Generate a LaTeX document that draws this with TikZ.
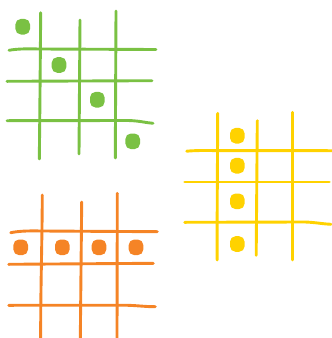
\documentclass[tikz,border=0pt]{standalone}
\definecolor{ggreen}{HTML}{7AC143}
\definecolor{gyellow}{HTML}{FFD200}
\definecolor{gorange}{HTML}{F58426}
\tikzset{
  gridline/.style={line width=2.9pt, line cap=round, line join=round},
  dot/.style={rounded corners=5.5pt},
}
\newcommand{\mydot}[3]{\fill[#1,dot] ({#2-7.3},{#3-7.8}) rectangle ({#2+7.3},{#3+7.8});}
\begin{document}
\begin{tikzpicture}[x=1pt,y=-1pt]
\useasboundingbox (0,0) rectangle (332,338);
% green grid
\begin{scope}[ggreen]
\draw[gridline] (40.7,12.7) .. controls (40.2,70) and (39.8,120) .. (39.3,159);
\draw[gridline] (80,20) -- (79,154);
\draw[gridline] (116,11) -- (115.3,158);
\draw[gridline] (9,50.3) .. controls (18,48.6) and (28,48.8) .. (40,49) -- (156,49.5);
\draw[gridline] (7,81.3) -- (152,80.7);
\draw[gridline] (7,120.7) -- (128,120.5) .. controls (140,120.8) and (146,122.8) .. (153,123.3);
\mydot{ggreen}{22.7}{26.7}
\mydot{ggreen}{59}{65}
\mydot{ggreen}{97.3}{99.7}
\mydot{ggreen}{132.7}{141.3}
\end{scope}
% yellow grid
\begin{scope}[gyellow]
\draw[gridline] (217.7,113.3) .. controls (217.5,170) and (217,210) .. (217.2,260);
\draw[gridline] (257.3,120.7) -- (256.2,255.3);
\draw[gridline] (292.7,112.3) -- (292.7,260);
\draw[gridline] (186.7,151.2) .. controls (195,150.4) and (205,150.4) .. (215,150.6) -- (332,150.7);
\draw[gridline] (184.7,182) -- (329.3,182);
\draw[gridline] (184.7,222.3) -- (305,222) .. controls (316,222.4) and (323,224) .. (331,224.3);
\mydot{gyellow}{237.3}{135.7}
\mydot{gyellow}{237.3}{165.7}
\mydot{gyellow}{237.3}{201.3}
\mydot{gyellow}{237.3}{244}
\end{scope}
% orange grid
\begin{scope}[gorange]
\draw[gridline] (42.3,195) .. controls (42,250) and (40.5,290) .. (40.7,340);
\draw[gridline] (81.7,202) -- (80.3,340);
\draw[gridline] (117.3,193.3) -- (117,340);
\draw[gridline] (10.7,232.7) .. controls (20,230.8) and (30,230.8) .. (42,231) -- (157.3,231.7);
\draw[gridline] (8.7,264.3) -- (153.3,263.3);
\draw[gridline] (8.7,305.3) -- (125,305.2) .. controls (138,305.5) and (146,306.8) .. (155.3,306.7);
\mydot{gorange}{20.7}{247.3}
\mydot{gorange}{62.3}{247.3}
\mydot{gorange}{99}{247.3}
\mydot{gorange}{136}{247.3}
\end{scope}
\end{tikzpicture}
\end{document}
